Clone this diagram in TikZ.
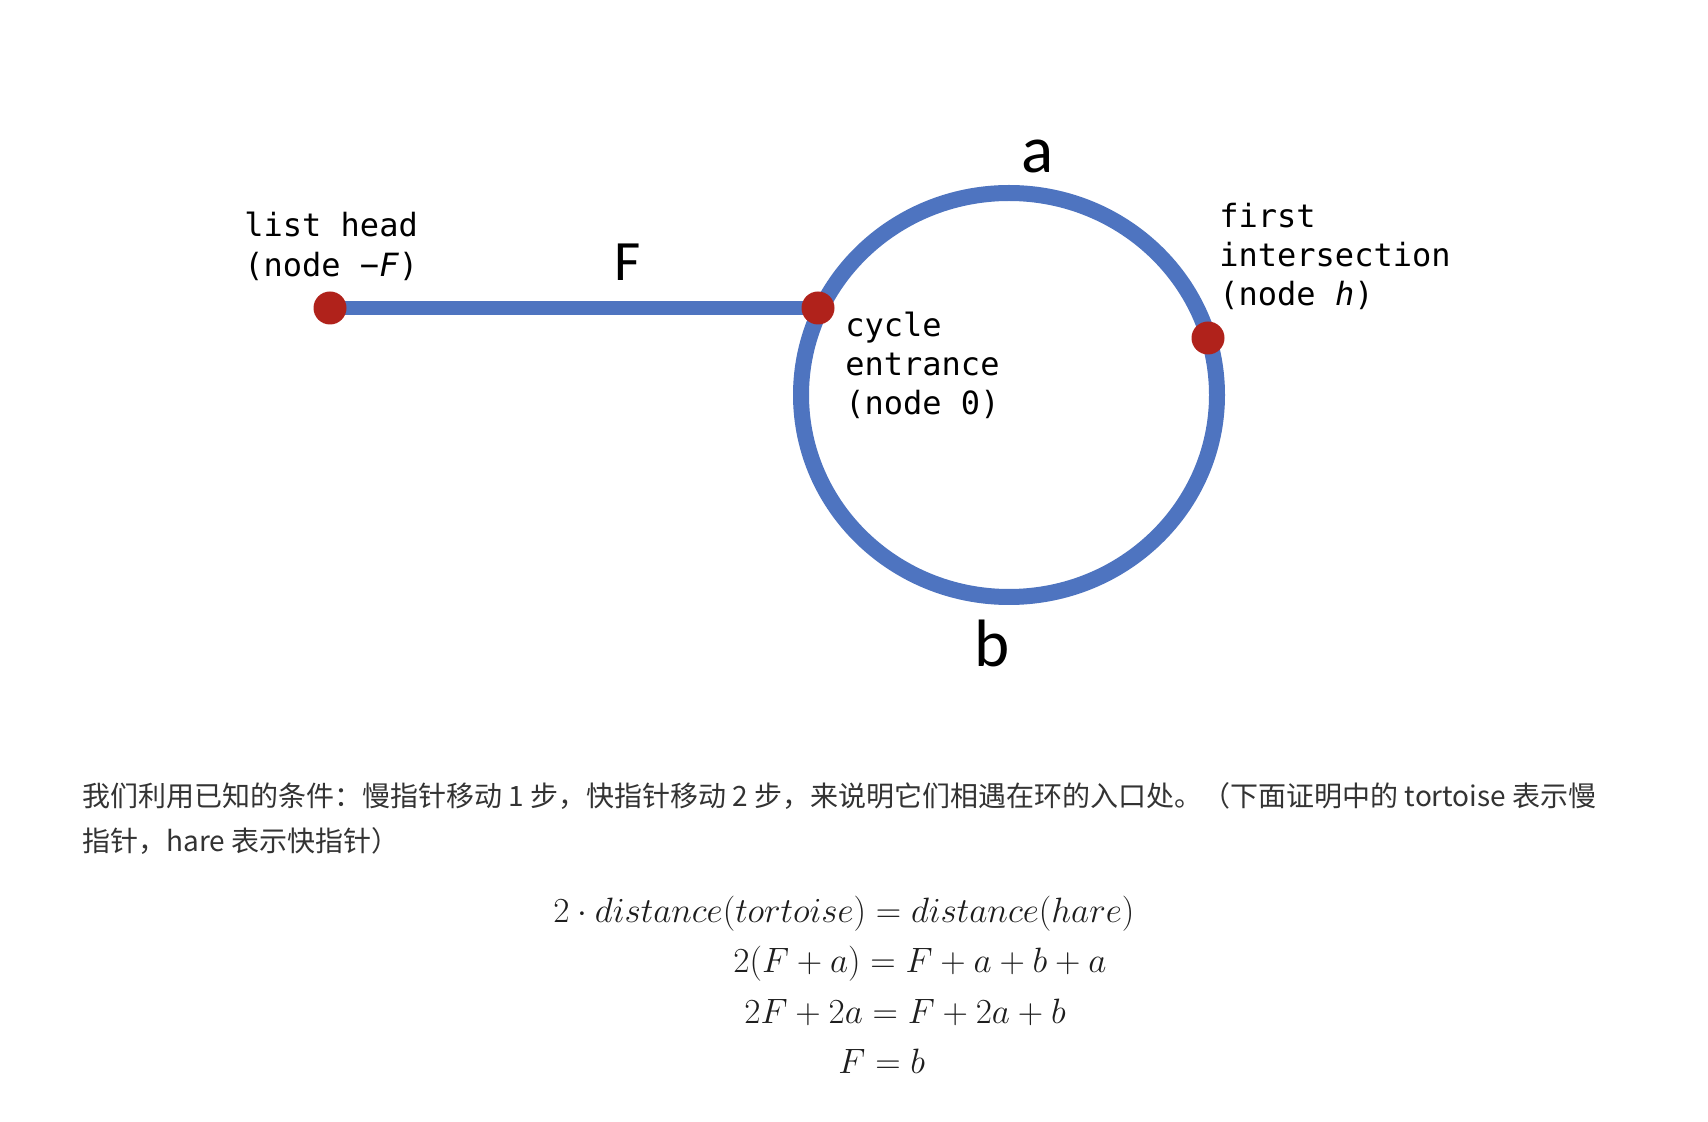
\RequirePackage{fix-cm}
\documentclass[tikz,border=0pt]{standalone}
\usepackage{fontspec}
\setmonofont{DejaVu Sans Mono}
\newfontfamily\cjk{Noto Sans CJK SC}
\newfontfamily\calib{Carlito}
\usetikzlibrary{backgrounds}
\definecolor{cblue}{RGB}{78,116,192}
\definecolor{cred}{RGB}{176,34,27}
\definecolor{txtgray}{RGB}{51,51,51}
\definecolor{eqgray}{RGB}{30,30,30}
\tikzset{
  dot/.style={circle,fill=cred,draw=none,minimum size=16.5pt,inner sep=0pt},
  ring/.style={draw=cblue,line width=8pt},
  tail/.style={draw=cblue,line width=7pt},
  mono/.style={font=\ttfamily\fontsize{16pt}{19.5pt}\selectfont,inner sep=0pt,anchor=base west},
  biglbl/.style={font=\calib\fontsize{33.5pt}{40pt}\selectfont,inner sep=0pt,anchor=base},
  flbl/.style={font=\calib\fontsize{28.5pt}{34pt}\selectfont,inner sep=0pt,anchor=base},
  cjktext/.style={font=\cjk\fontsize{14pt}{17pt}\selectfont,text=txtgray,inner sep=0pt,anchor=base west},
  eqn/.style={font=\fontsize{17.6pt}{21pt}\selectfont,text=eqgray,inner sep=0pt,anchor=base west}
}
\begin{document}
\begin{tikzpicture}[x=0.5pt,y=-0.5pt]
\useasboundingbox (0,0) rectangle (1708,1122);
\coordinate (C) at (1009,395);
\node[dot] (head) at (330,308) {};
\node[dot] (entr) at (818,308) {};
\node[dot] (inter) at (1208,338) {};
\begin{scope}[on background layer]
\fill[white] (0,0) rectangle (1708,1122);
\draw[tail] (head.center) -- (entr.center);
\draw[ring] (C) ellipse [x radius=104pt, y radius=101pt];
\end{scope}
% labels
\node[flbl] (lF) at (628,281) {F};
\node[biglbl] (la) at (1038,173) {a};
\node[biglbl] (lb) at (992,667) {b};
\node[mono] (lh1) at (244,237) {list head};
\node[mono] (lh2) at (244,277) {(node −\textit{F})};
\node[mono] (ce1) at (845,337) {cycle};
\node[mono] (ce2) at (845,376) {entrance};
\node[mono] (ce3) at (845,415) {(node 0)};
\node[mono] (fi1) at (1219,228) {first};
\node[mono] (fi2) at (1219,267) {intersection};
\node[mono] (fi3) at (1219,306) {(node \textit{h})};
% paragraph
\node[cjktext] (p1) at (82,806) {我们利用已知的条件：慢指针移动 1 步，快指针移动 2 步，来说明它们相遇在环的入口处。（下面证明中的 tortoise 表示慢};
\node[cjktext] (p2) at (82,851) {指针，hare 表示快指针）};
% equations
\node[eqn] (e1) at (553,922) {$2\cdot distance(tortoise)=distance(hare)$};
\node[eqn] (e2) at (733,972) {$2(F+a)=F+a+b+a$};
\node[eqn] (e3) at (744,1023) {$2F+2a=F+2a+b$};
\node[eqn] (e4) at (838,1073) {$F=b$};
\end{tikzpicture}
\end{document}
